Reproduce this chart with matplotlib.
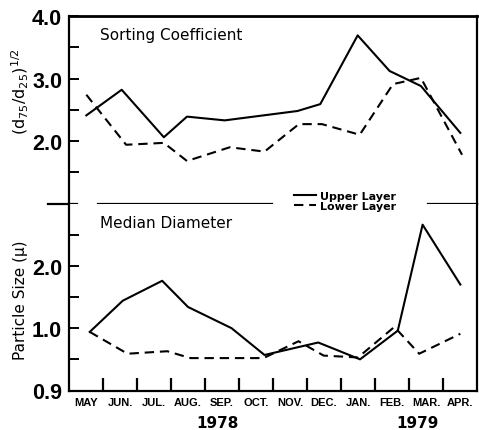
import matplotlib
matplotlib.use("Agg")
import matplotlib.pyplot as plt
from matplotlib import font_manager

plt.rcParams['font.family'] = ['DejaVu Sans']
plt.rcParams['mathtext.default'] = 'regular'

# ---- data ----
months = ["MAY", "JUN.", "JUL.", "AUG.", "SEP.", "OCT.", "NOV.", "DEC.", "JAN.", "FEB.", "MAR.", "APR."]
years = ["1978", "1979"]

sort_upper_x = [0.51, 1.55, 2.79, 3.47, 4.58, 6.72, 7.39, 8.49, 9.43, 10.35, 11.51]
sort_upper_y = [2.41, 2.82, 2.06, 2.39, 2.33, 2.48, 2.59, 3.69, 3.12, 2.88, 2.13]
sort_lower_x = [0.51, 1.68, 2.79, 3.47, 4.73, 5.75, 6.76, 7.44, 8.55, 9.53, 10.35, 11.56]
sort_lower_y = [2.74, 1.94, 1.97, 1.68, 1.90, 1.83, 2.27, 2.27, 2.10, 2.91, 3.01, 1.78]

med_upper_x = [0.61, 1.58, 2.74, 3.50, 4.78, 5.75, 7.33, 8.56, 9.67, 10.40, 11.51]
med_upper_y = [0.94, 1.44, 1.76, 1.34, 1.00, 0.57, 0.77, 0.50, 0.96, 2.66, 1.70]
med_lower_x = [0.61, 1.72, 2.89, 3.57, 5.72, 6.75, 7.49, 8.50, 9.57, 10.30, 11.51]
med_lower_y = [0.94, 0.59, 0.63, 0.52, 0.52, 0.79, 0.56, 0.53, 1.02, 0.59, 0.91]

upper_ticks = [2.0, 3.0, 4.0]
upper_ticklabels = ["2.0", "3.0", "4.0"]
lower_ticks = [0.0, 1.0, 2.0]
lower_ticklabels = ["0.9", "1.0", "2.0"]

# narrow font for the numbers if available
avail = {f.name for f in font_manager.fontManager.ttflist}
num_family = 'Liberation Sans Narrow' if 'Liberation Sans Narrow' in avail else 'Liberation Sans'

# ---- figure ----
W, H = 479, 431
fig = plt.figure(figsize=(W / 100, H / 100), dpi=100)
left_px, right_px, top_px, mid_px, bot_px = 69, 477, 17, 204.5, 391.5
l = left_px / W
w = (right_px - left_px) / W
ax1 = fig.add_axes([l, 1 - mid_px / H, w, (mid_px - top_px) / H])
ax2 = fig.add_axes([l, 1 - bot_px / H, w, (bot_px - mid_px) / H])

lw = 1.5
dash = (4.5, 2.8)
for ax in (ax1, ax2):
    ax.set_xlim(0, 12)
    for s in ax.spines.values():
        s.set_linewidth(1.6)
    ax.tick_params(axis='y', which='both', direction='in', width=1.4)
    ax.tick_params(axis='y', which='major', length=7, pad=5)
    ax.tick_params(axis='y', which='minor', length=7)

# upper panel
ax1.plot(sort_upper_x, sort_upper_y, color='black', lw=lw, label='Upper Layer')
ax1.plot(sort_lower_x, sort_lower_y, color='black', lw=lw, dashes=dash, label='Lower Layer')
ax1.set_ylim(1.0, 4.0)
ax1.set_yticks(upper_ticks)
ax1.set_yticklabels(upper_ticklabels, fontsize=15.5, family=num_family, fontweight='bold')
ax1.set_yticks([1.5, 2.5, 3.5], minor=True)
ax1.set_xticks([])
ax1.spines['bottom'].set_visible(False)
ax1.spines['top'].set_linewidth(2.0)
ax1.text(0.075, 0.9, "Sorting Coefficient", transform=ax1.transAxes, fontsize=11,
         ha='left', va='center')

# divider line segments
span = right_px - left_px
ax1.axhline(1.0, xmin=(98 - left_px) / span, xmax=(272 - left_px) / span,
            color='black', lw=1.6, clip_on=False)
ax1.axhline(1.0, xmin=(428 - left_px) / span, xmax=1.0,
            color='black', lw=1.6, clip_on=False)
ax1.axhline(1.0, xmin=(48 - left_px) / span, xmax=(77 - left_px) / span,
            color='black', lw=1.6, clip_on=False)

# lower panel
ax2.plot(med_upper_x, med_upper_y, color='black', lw=lw)
ax2.plot(med_lower_x, med_lower_y, color='black', lw=lw, dashes=dash)
ax2.set_ylim(0.0, 3.0)
ax2.set_yticks(lower_ticks)
ax2.set_yticklabels(lower_ticklabels, fontsize=15.5, family=num_family, fontweight='bold')
ax2.set_yticks([0.5, 1.5, 2.5], minor=True)
ax2.spines['top'].set_visible(False)
ax2.set_xticks(range(1, 12))
ax2.set_xticklabels([])
ax2.set_xticks([i + 0.5 for i in range(12)], minor=True)
ax2.set_xticklabels(months, minor=True, fontsize=8, fontweight='bold', family=num_family)
ax2.tick_params(axis='x', which='major', direction='in', length=9.5, width=1.6)
ax2.tick_params(axis='x', which='minor', length=0, pad=5)
ax2.text(0.075, 0.9, "Median Diameter", transform=ax2.transAxes, fontsize=11,
         ha='left', va='center')

# legend
h, lab = ax1.get_legend_handles_labels()
fig.legend(h, lab, loc='upper left', bbox_to_anchor=(288 / W, 1 - 186 / H), frameon=False,
           handlelength=2.0, handletextpad=0.4, labelspacing=0.05, borderpad=0.0,
           prop={'size': 8, 'weight': 'bold'})

# axis labels
fig.text(20 / W, 1 - 92 / H, r"$(d_{75}/d_{25})^{1/2}$", rotation=90, ha='center', va='center', fontsize=11.5)
fig.text(21 / W, 1 - 300 / H, "Particle Size (\u03bc)", rotation=90, ha='center', va='center', fontsize=11)

# years
fig.text(217 / W, 1 - 424 / H, years[0], ha='center', va='center', fontsize=11, fontweight='bold')
fig.text(417 / W, 1 - 424 / H, years[1], ha='center', va='center', fontsize=11, fontweight='bold')

fig.savefig("out.png", dpi=100)
